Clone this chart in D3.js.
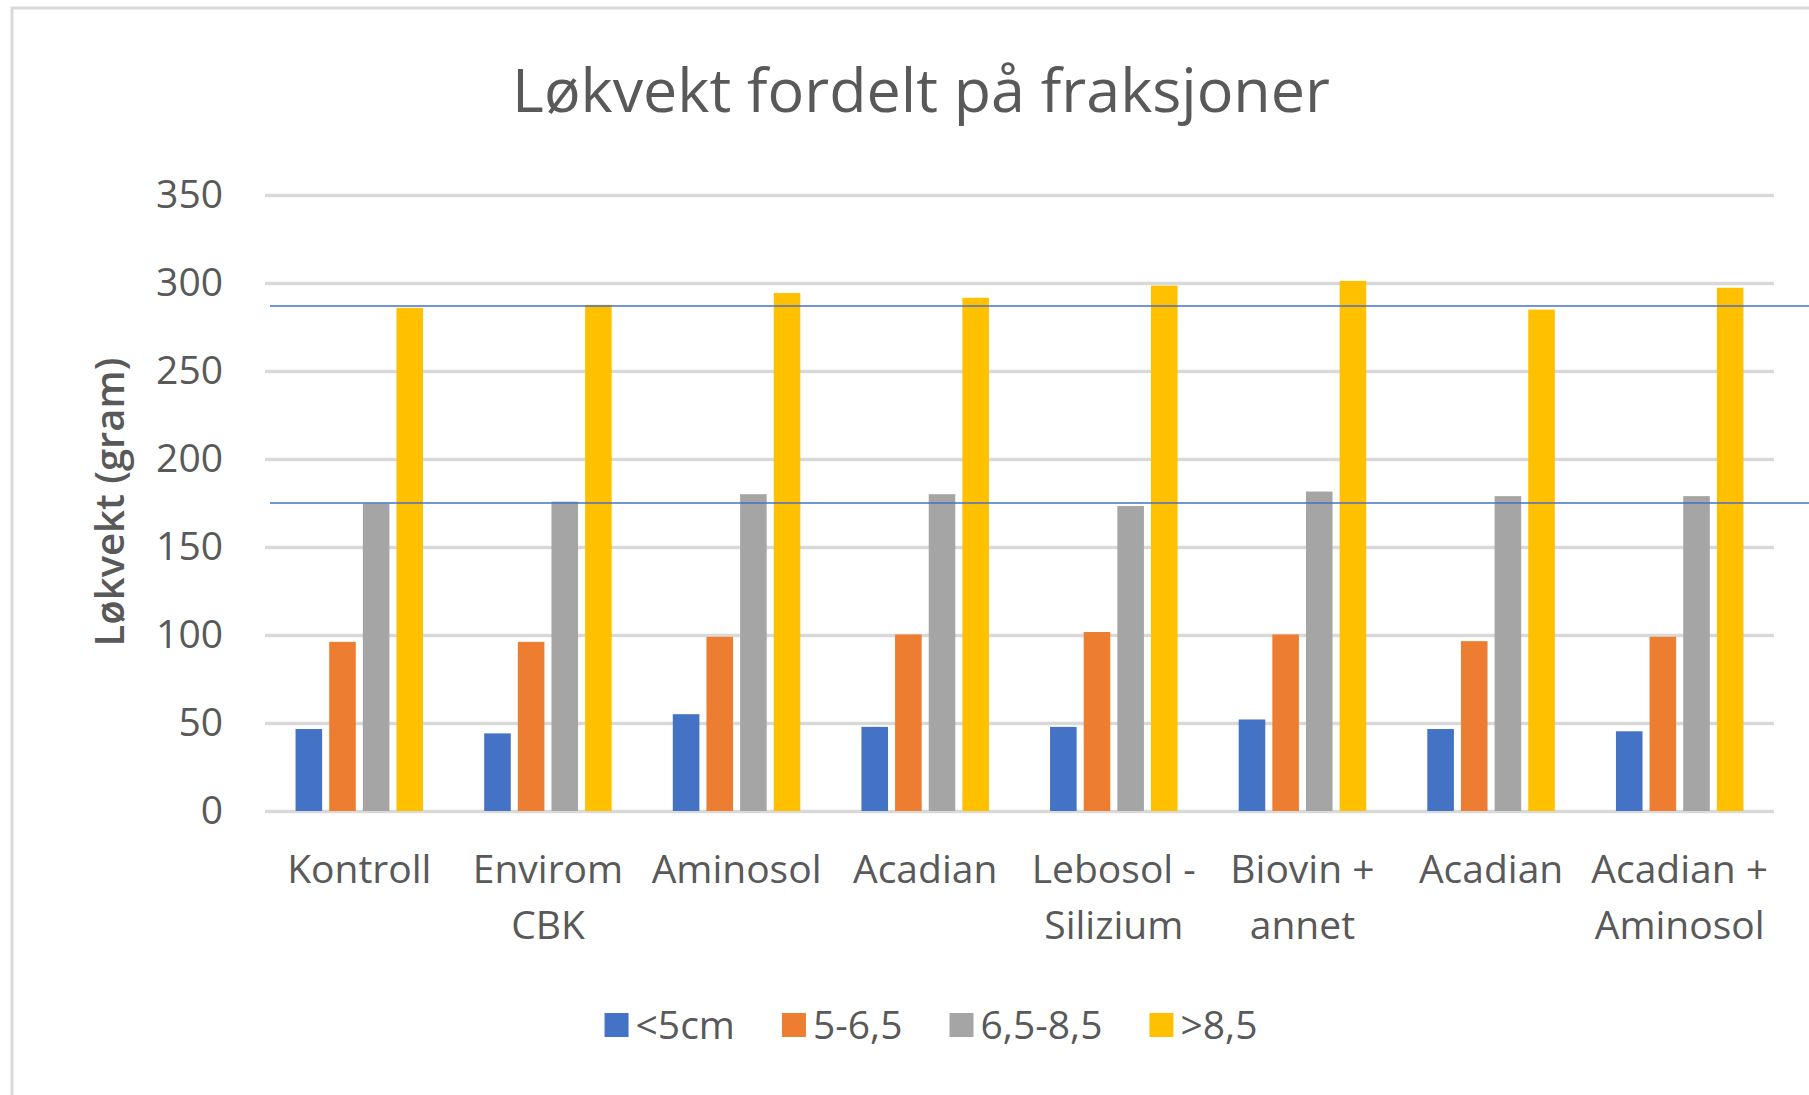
<!DOCTYPE html>
<html>
<head>
<meta charset="utf-8">
<script src="https://cdn.jsdelivr.net/npm/d3@7"></script>
<style>
  body { margin: 0; background: #fff; }
  text { font-family: "Open Sans", "Noto Sans", sans-serif; fill: #595959; }
</style>
</head>
<body>
<div id="vis"></div>
<script>
// chart data
var categories = ["Kontroll", "Envirom CBK", "Aminosol", "Acadian", "Lebosol - Silizium", "Biovin + annet", "Acadian", "Acadian + Aminosol"];
var tickLines = [["Kontroll"], ["Envirom", "CBK"], ["Aminosol"], ["Acadian"], ["Lebosol -", "Silizium"], ["Biovin +", "annet"], ["Acadian"], ["Acadian +", "Aminosol"]];
var seriesNames = ["<5cm", "5-6,5", "6,5-8,5", ">8,5"];
var under5 = [46.6, 44.1, 55.0, 47.8, 47.8, 52.0, 46.6, 45.3];
var s5to65 = [96.1, 96.1, 99.0, 100.3, 101.7, 100.3, 96.5, 99.0];
var s65to85 = [174.7, 175.8, 180.0, 180.0, 173.3, 181.5, 178.9, 178.9];
var over85 = [285.9, 287.6, 294.3, 291.6, 298.5, 301.2, 284.9, 297.3];
var yTicks = [0, 50, 100, 150, 200, 250, 300, 350];
var refLines = [287, 175];
var colors = ["#4472C4", "#ED7D31", "#A5A5A5", "#FFC000"];

// SVG geometry
var width = 1809;
var height = 1095;
var plot = { left: 265, right: 1774, top: 195, bottom: 811 };

var svg = d3.select("#vis")
  .append("svg")
  .attr("width", width)
  .attr("height", height);

// chart area border
svg.append("rect")
  .attr("x", 12)
  .attr("y", 8)
  .attr("width", 1900)
  .attr("height", 1200)
  .attr("fill", "#fff")
  .attr("stroke", "#d9d9d9")
  .attr("stroke-width", 3);

var allSeries = [under5, s5to65, s65to85, over85];

var x0 = d3.scaleBand()
  .domain(d3.range(categories.length))
  .range([plot.left, plot.right])
  .paddingInner(0.324)
  .paddingOuter(0.162);

var x1 = d3.scaleBand()
  .domain(d3.range(seriesNames.length))
  .range([0, x0.bandwidth()])
  .paddingInner(0.21);

var y = d3.scaleLinear()
  .domain([0, 350])
  .range([plot.bottom, plot.top]);

// y axis + gridlines
var yAxis = svg.append("g")
  .attr("transform", "translate(" + plot.left + ",0)")
  .call(d3.axisLeft(y).tickValues(yTicks).tickSize(-(plot.right - plot.left)).tickPadding(42));
yAxis.select(".domain").remove();
yAxis.selectAll(".tick line")
  .attr("stroke", "#d9d9d9")
  .attr("stroke-width", 3.5);
yAxis.selectAll(".tick text")
  .attr("font-size", 39)
  .attr("fill", "#595959")
  .style("font-family", "'Open Sans', sans-serif");

// bars
var groups = svg.append("g")
  .selectAll("g")
  .data(categories)
  .join("g")
  .attr("transform", function(d, i) { return "translate(" + x0(i) + ",0)"; });

groups.selectAll("rect")
  .data(function(d, i) { return allSeries.map(function(s, k) { return { k: k, v: s[i] }; }); })
  .join("rect")
  .attr("x", function(d) { return x1(d.k); })
  .attr("y", function(d) { return y(d.v); })
  .attr("width", x1.bandwidth())
  .attr("height", function(d) { return y(0) - y(d.v); })
  .attr("fill", function(d) { return colors[d.k]; });

// blue reference lines
svg.append("g")
  .selectAll("line")
  .data(refLines)
  .join("line")
  .attr("x1", 270)
  .attr("x2", width)
  .attr("y1", function(d) { return y(d); })
  .attr("y2", function(d) { return y(d); })
  .attr("stroke", "#4472C4")
  .attr("stroke-width", 1.5);

// x axis labels
var xAxis = svg.append("g")
  .attr("transform", "translate(0," + plot.bottom + ")")
  .call(d3.axisBottom(x0).tickSize(0).tickFormat(function() { return ""; }));
xAxis.select(".domain").remove();
xAxis.selectAll(".tick text").remove();
xAxis.selectAll(".tick")
  .append("text")
  .attr("text-anchor", "middle")
  .attr("font-size", 39)
  .selectAll("tspan")
  .data(function(d) { return tickLines[d]; })
  .join("tspan")
  .attr("x", 0)
  .attr("y", function(d, i) { return 58 + i * 56; })
  .attr("dy", "0.35em")
  .text(function(d) { return d; });

// title
svg.append("text")
  .attr("x", 921)
  .attr("y", 112)
  .attr("text-anchor", "middle")
  .attr("font-size", 61)
  .text("Løkvekt fordelt på fraksjoner");

// y axis title
svg.append("text")
  .attr("transform", "translate(110,502) rotate(-90)")
  .attr("text-anchor", "middle")
  .attr("dy", "0.35em")
  .attr("font-size", 40)
  .attr("font-weight", 600)
  .text("Løkvekt (gram)");

// legend
var legend = svg.append("g");
var lx = 0;
seriesNames.forEach(function(name, k) {
  var item = legend.append("g").attr("transform", "translate(" + lx + ",0)");
  item.append("rect")
    .attr("x", 0)
    .attr("y", -12)
    .attr("width", 24)
    .attr("height", 24)
    .attr("fill", colors[k]);
  var t = item.append("text")
    .attr("x", 31)
    .attr("dy", "0.35em")
    .attr("font-size", 39)
    .text(name);
  lx += 31 + t.node().getComputedTextLength() + 47;
});
var legendW = lx - 47;
legend.attr("transform", "translate(" + (931 - legendW / 2) + ",1025)");
</script>
</body>
</html>
